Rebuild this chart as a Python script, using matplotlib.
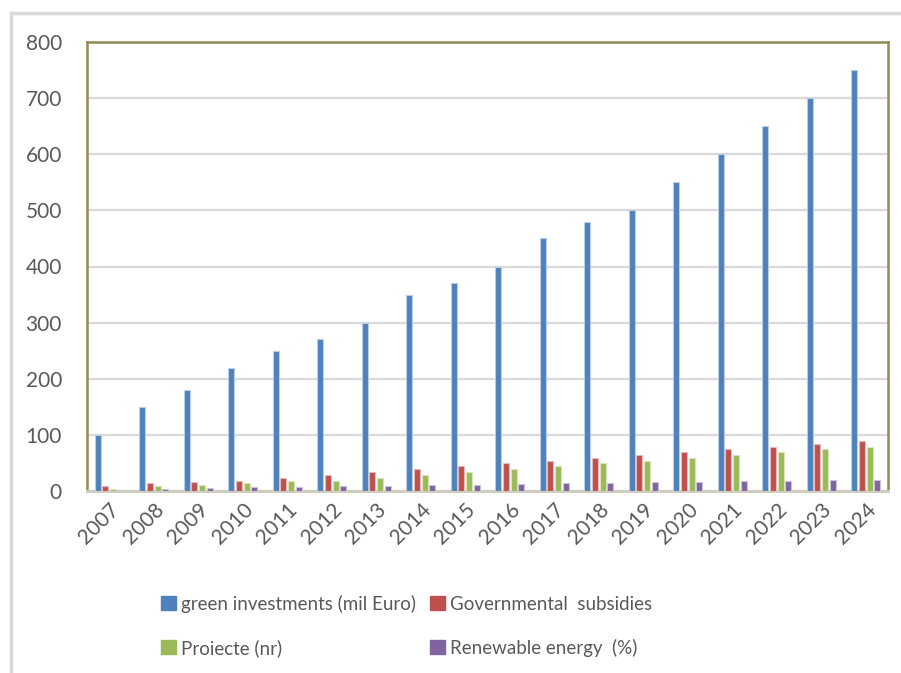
import matplotlib
matplotlib.use("Agg")
import matplotlib.pyplot as plt
from matplotlib.patches import Patch
from matplotlib.lines import Line2D
import numpy as np

years = [str(y) for y in range(2007, 2025)]
green_investments = [100, 150, 180, 220, 250, 270, 300, 350, 370, 400, 450, 480, 500, 550, 600, 650, 700, 750]
gov_subsidies = [9, 14, 16, 18, 23, 29, 34, 39, 44, 49, 54, 59, 64, 69, 74, 79, 84, 89]
proiecte = [3, 9, 11, 14, 17, 18, 23, 29, 34, 39, 44, 49, 54, 59, 65, 69, 74, 79]
renewable = [2.5, 3.5, 5.5, 7, 7.5, 8.5, 9, 10, 11.5, 12.5, 14, 14.5, 15.5, 16.5, 17.5, 18, 19.5, 20]

series = [
    ("green investments (mil Euro)", green_investments, "#4F81BD", "#b9cde5"),
    ("Governmental  subsidies", gov_subsidies, "#C0504D", "#e6b9b8"),
    ("Proiecte (nr)", proiecte, "#9BBB59", "#d7e4bd"),
    ("Renewable energy  (%)", renewable, "#8064A2", "#ccc1da"),
]

plt.rcParams['font.family'] = ['Lato', 'DejaVu Sans']
W, H = 901, 673
fig = plt.figure(figsize=(W / 100, H / 100), dpi=100)
ax = fig.add_axes([87 / W, 1 - 491 / H, (888 - 87) / W, (491 - 42) / H])

x = np.arange(len(years))
step = 0.175
width = 0.135
for i, (name, vals, col, ecol) in enumerate(series):
    ax.bar(x + (i - 1.5) * step, vals, width=width, color=col, edgecolor=ecol,
           linewidth=0.8, label=name, zorder=3)

ax.set_xlim(-0.5, len(years) - 0.5)
ax.set_ylim(0, 800)
ax.set_yticks(range(0, 801, 100))
ax.yaxis.grid(True, color="#D9D9D9", linewidth=1.6, zorder=0)
ax.set_axisbelow(True)
ax.set_xticks(x)
ax.set_xticklabels(years, rotation=45, ha='right', rotation_mode='anchor')
ax.tick_params(axis='y', length=0, pad=18, labelsize=15, labelcolor="#595959")
ax.tick_params(axis='x', length=0, pad=6, labelsize=15, labelcolor="#595959")

for s in ['left', 'top', 'right']:
    ax.spines[s].set_color("#948A54")
    ax.spines[s].set_linewidth(1.8)
ax.spines['bottom'].set_color("#CFCDC0")
ax.spines['bottom'].set_linewidth(2.2)

# outer chart frame (partially visible)
fig.add_artist(Line2D([10.5 / W, 10.5 / W], [0, 1 - 13 / H], transform=fig.transFigure,
                      color="#D9D9D9", linewidth=2.5))
fig.add_artist(Line2D([10.5 / W, 1], [1 - 13 / H, 1 - 13 / H], transform=fig.transFigure,
                      color="#D9D9D9", linewidth=2.5))

handles = [Patch(facecolor=c, edgecolor=c, label=n) for n, v, c, e in series]
# matplotlib fills legend columns first; reorder so rows read as in the reference
order = [0, 2, 1, 3]
leg = fig.legend(handles=[handles[k] for k in order], ncol=2, loc='upper left',
                 bbox_to_anchor=(144 / W, 1 - 578 / H), frameon=False,
                 fontsize=13.5, handlelength=0.78, handleheight=0.78,
                 handletextpad=0.3, columnspacing=0.75, labelspacing=1.38,
                 labelcolor="#595959")

fig.savefig("out.png", dpi=100)
